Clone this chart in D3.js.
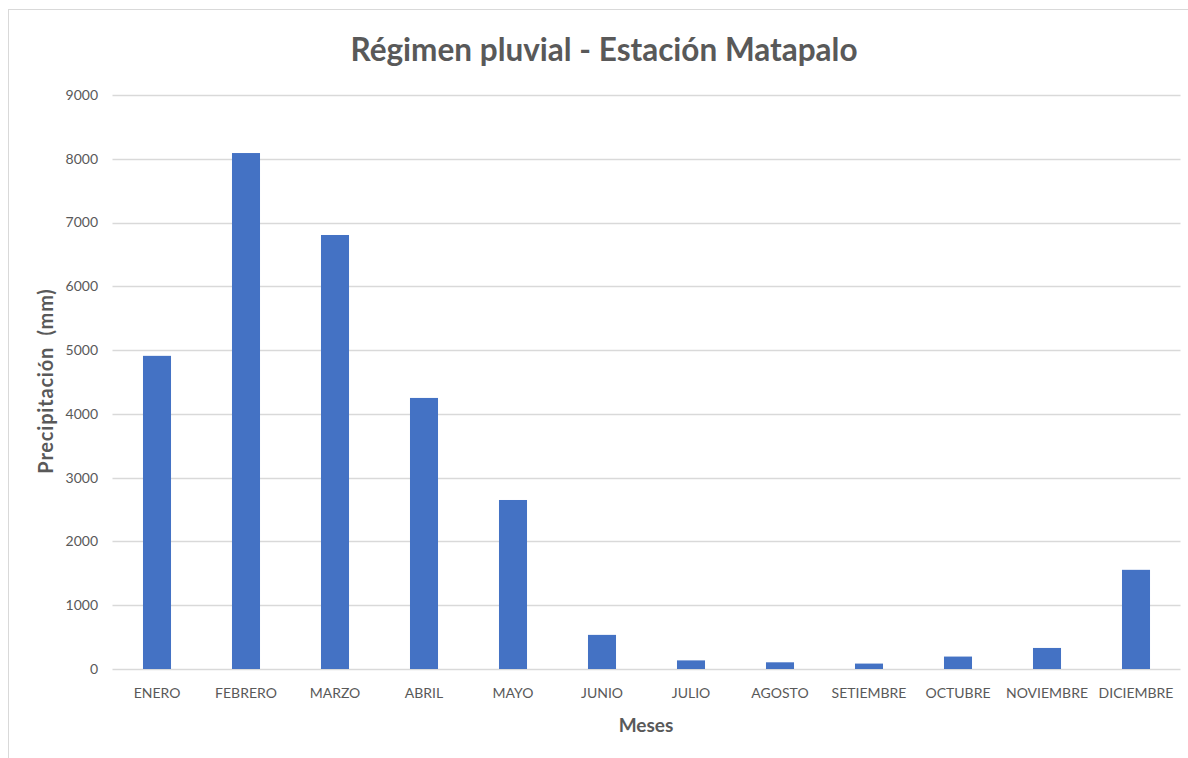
<!DOCTYPE html>
<html>
<head>
<meta charset="utf-8">
<script src="https://cdn.jsdelivr.net/npm/d3@7"></script>
<style>
  body { margin: 0; background: #fff; }
  text { font-family: Lato, "Open Sans", sans-serif; fill: #595959; }
</style>
</head>
<body>
<div id="chart"></div>
<script>
var meses = ["ENERO", "FEBRERO", "MARZO", "ABRIL", "MAYO", "JUNIO", "JULIO",
   "AGOSTO", "SETIEMBRE", "OCTUBRE", "NOVIEMBRE", "DICIEMBRE"];
var precipitacion = [4910, 8090, 6805, 4250, 2650, 535, 135, 105, 85, 195, 330, 1555];
var yTicks = [0, 1000, 2000, 3000, 4000, 5000, 6000, 7000, 8000, 9000];

var width = 1188, height = 758;
var margin = { left: 112.5, right: 7.5, top: 95, bottom: 89 };

var svg = d3.select("#chart")
   .append("svg")
   .attr("width", width)
   .attr("height", height);

// chart frame
svg.append("rect")
   .attr("x", 8.5)
   .attr("y", 9.5)
   .attr("width", 1190)
   .attr("height", 770)
   .attr("fill", "none")
   .attr("stroke", "#d9d9d9")
   .attr("stroke-width", 1);

var x = d3.scaleBand()
   .domain(meses)
   .range([margin.left, width - margin.right])
   .paddingInner(0.685)
   .paddingOuter(0.3425);

var y = d3.scaleLinear()
   .domain([0, 9000])
   .range([height - margin.bottom, margin.top]);

// gridlines
svg.append("g")
   .selectAll("line")
   .data(yTicks)
   .enter().append("line")
   .attr("x1", margin.left)
   .attr("x2", width - margin.right)
   .attr("y1", function(d) { return Math.round(y(d)) + 0.5; })
   .attr("y2", function(d) { return Math.round(y(d)) + 0.5; })
   .attr("stroke", "#d9d9d9")
   .attr("stroke-width", 1.5);

// y labels
svg.append("g")
   .selectAll("text")
   .data(yTicks)
   .enter().append("text")
   .attr("x", 98)
   .attr("y", function(d) { return y(d); })
   .attr("dy", "0.35em")
   .attr("text-anchor", "end")
   .style("font-size", "14px")
   .text(function(d) { return d; });

// bars
svg.append("g")
   .selectAll("rect")
   .data(precipitacion)
   .enter().append("rect")
   .attr("x", function(d, i) { return x(meses[i]); })
   .attr("width", x.bandwidth())
   .attr("y", function(d) { return y(d); })
   .attr("height", function(d) { return y(0) - y(d); })
   .attr("fill", "#4472c4");

// x labels
svg.append("g")
   .selectAll("text")
   .data(meses)
   .enter().append("text")
   .attr("x", function(d) { return x(d) + x.bandwidth() / 2; })
   .attr("y", 698)
   .attr("text-anchor", "middle")
   .style("font-size", "14px")
   .text(function(d) { return d; });

// titles
svg.append("text")
   .attr("x", 604)
   .attr("y", 61)
   .attr("text-anchor", "middle")
   .style("font-size", "31.5px")
   .style("font-weight", "bold")
   .text("Régimen pluvial - Estación Matapalo");

svg.append("text")
   .attr("x", 646)
   .attr("y", 732)
   .attr("text-anchor", "middle")
   .style("font-size", "19px")
   .style("font-weight", "bold")
   .text("Meses");

svg.append("text")
   .attr("transform", "translate(53,381) rotate(-90)")
   .attr("text-anchor", "middle")
   .style("font-size", "20px")
   .style("font-weight", "bold")
   .style("letter-spacing", "0.8px")
   .style("white-space", "pre")
   .text("Precipitación  (mm)");
</script>
</body>
</html>
